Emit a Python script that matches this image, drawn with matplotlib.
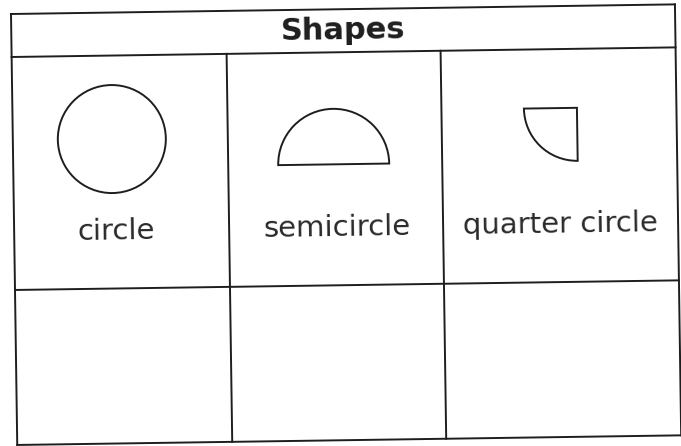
import matplotlib
matplotlib.use('Agg')
import matplotlib.pyplot as plt
from matplotlib.patches import Circle, Wedge
from matplotlib.transforms import Affine2D

# table content
title = 'Shapes'
labels = ['circle', 'semicircle', 'quarter circle']

# table layout in local pixel units (origin top-left of the table, y down)
col_edges = [0, 215, 429, 664]
row_edges = [0, 43, 276, 431]
label_u = [102, 323, 546]
label_v = 227
tilt = 0.83          # the scan is slightly rotated
origin = (11, 14)
ink = '#1e1e1e'
lw = 1.4

fig = plt.figure(figsize=(6.81, 4.46), dpi=100)
ax = fig.add_axes([0, 0, 1, 1])
ax.set_xlim(0, 681)
ax.set_ylim(446, 0)
ax.axis('off')

tr = Affine2D().rotate_deg(-tilt).translate(*origin) + ax.transData

# outer border and grid
w = col_edges[-1]
h = row_edges[-1]
for v in row_edges:
    ax.plot([0, w], [v, v], color=ink, lw=lw, transform=tr, solid_capstyle='projecting')
ax.plot([0, 0], [0, h], color=ink, lw=lw, transform=tr)
ax.plot([w, w], [0, h], color=ink, lw=lw, transform=tr)
for u in col_edges[1:-1]:
    ax.plot([u, u], [row_edges[1], h], color=ink, lw=lw, transform=tr)

# header
ax.text(w / 2, 30, title, fontsize=22, fontweight='bold', family='DejaVu Sans',
        ha='center', va='baseline', color=ink, rotation=tilt,
        rotation_mode='anchor', transform=tr)

# shapes
shapes = [
    Circle((99, 126.5), 54),
    Wedge((320.5, 155), 55.5, 180, 360),
    Wedge((564.5, 102), 53, 90, 180),
]
for p in shapes:
    p.set_facecolor('none')
    p.set_edgecolor(ink)
    p.set_linewidth(lw)
    p.set_transform(tr)
    ax.add_patch(p)

# labels
for u, lab in zip(label_u, labels):
    ax.text(u, label_v, lab, fontsize=21, family='DejaVu Sans',
            ha='center', va='baseline', color='#2a2a2a', rotation=tilt,
            rotation_mode='anchor', transform=tr)

fig.savefig('out.png', dpi=100, facecolor='white')
